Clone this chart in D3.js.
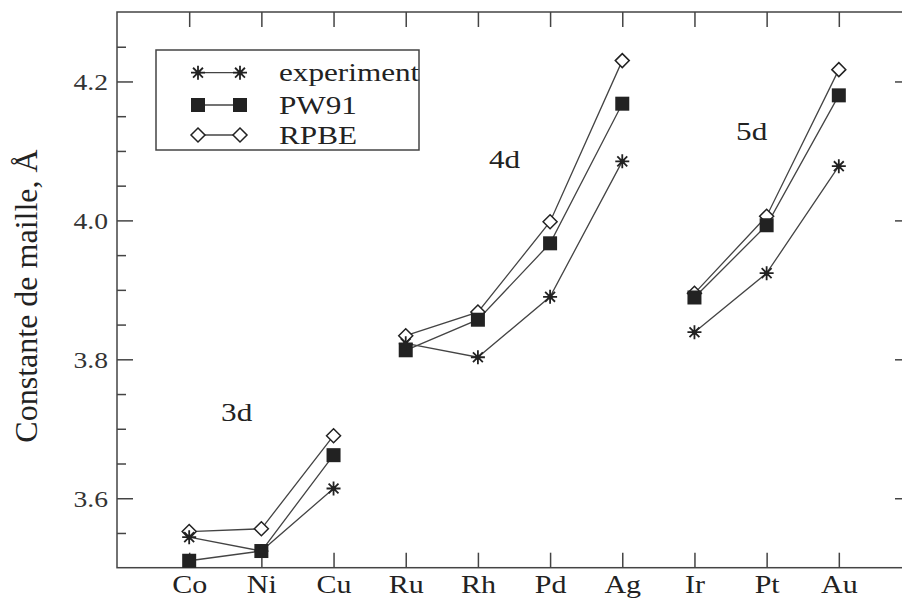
<!DOCTYPE html>
<html>
<head>
<meta charset="utf-8">
<script src="https://cdn.jsdelivr.net/npm/d3@7/dist/d3.min.js"></script>
<style>
  body { margin: 0; background: #fff; }
  svg text { font-family: "Times New Roman", Times, "Liberation Serif", serif; fill: #222; }
</style>
</head>
<body>
<div id="chart"></div>
<script>
// metals along the x axis, grouped by row (lines break between groups)
var metals = ["Co", "Ni", "Cu", "Ru", "Rh", "Pd", "Ag", "Ir", "Pt", "Au"];
var groups = [["Co", "Ni", "Cu"], ["Ru", "Rh", "Pd", "Ag"], ["Ir", "Pt", "Au"]];
var groupLabels = ["3d", "4d", "5d"];

// lattice constants (Å)
var experiment = [3.544, 3.524, 3.614, 3.823, 3.803, 3.890, 4.085, 3.839, 3.924, 4.078];
var pw91       = [3.510, 3.524, 3.662, 3.813, 3.857, 3.967, 4.168, 3.889, 3.993, 4.180];
var rpbe       = [3.552, 3.556, 3.690, 3.834, 3.868, 3.998, 4.230, 3.895, 4.006, 4.217];

var seriesNames = ["experiment", "PW91", "RPBE"];
var yMajor = [3.6, 3.8, 4.0, 4.2];
var yMinor = [3.55, 3.65, 3.7, 3.75, 3.85, 3.9, 3.95, 4.05, 4.1, 4.15, 4.25];

var width = 902, height = 599;
var ink = "#222", lineCol = "#444";
var stretch = 1.2;
var serif = '"Times New Roman", Times, "Liberation Serif", serif';

var svg = d3.select("#chart").append("svg")
  .attr("width", width)
  .attr("height", height);

var x = d3.scaleLinear().domain([0, 11]).range([117, 911]);
var y = d3.scaleLinear().domain([3.5, 4.3]).range([567.7, 12]);

// frame
svg.append("rect")
  .attr("x", x(0)).attr("y", y(4.3))
  .attr("width", x(11) - x(0)).attr("height", y(3.5) - y(4.3))
  .attr("fill", "none").attr("stroke", lineCol).attr("stroke-width", 1.5);

var xIdx = d3.range(1, 11);

// x ticks bottom + top
var gxb = svg.append("g").attr("transform", "translate(0," + y(3.5) + ")")
  .call(d3.axisBottom(x).tickValues(xIdx).tickSize(-15).tickPadding(0)
    .tickFormat(function(d) { return metals[d - 1]; }));
var gxt = svg.append("g").attr("transform", "translate(0," + y(4.3) + ")")
  .call(d3.axisTop(x).tickValues(xIdx).tickSize(-15).tickFormat(""));

// y ticks left + right
var gyl = svg.append("g").attr("transform", "translate(" + x(0) + ",0)")
  .call(d3.axisLeft(y).tickValues(yMajor).tickSize(-16).tickPadding(0)
    .tickFormat(d3.format(".1f")));
var gylm = svg.append("g").attr("transform", "translate(" + x(0) + ",0)")
  .call(d3.axisLeft(y).tickValues(yMinor).tickSize(-9).tickFormat(""));
var gyr = svg.append("g").attr("transform", "translate(" + x(11) + ",0)")
  .call(d3.axisRight(y).tickValues(yMajor).tickSize(-16).tickFormat(""));
var gyrm = svg.append("g").attr("transform", "translate(" + x(11) + ",0)")
  .call(d3.axisRight(y).tickValues(yMinor).tickSize(-9).tickFormat(""));

[gxb, gxt, gyl, gylm, gyr, gyrm].forEach(function(g) {
  g.attr("font-family", serif);
  g.select(".domain").remove();
  g.selectAll(".tick line").attr("stroke", lineCol).attr("stroke-width", 1.5);
});

gxb.selectAll(".tick text")
  .attr("y", 0).attr("dy", 0)
  .attr("transform", "translate(0,25) scale(" + stretch + ",1)")
  .style("font-size", "25px")
  .attr("fill", ink);

gyl.selectAll(".tick text")
  .attr("x", 0).attr("dy", 0)
  .attr("text-anchor", "end")
  .attr("transform", "translate(-9,8) scale(" + stretch + ",1)")
  .style("font-size", "23px")
  .style("fill", "#333");

// y axis title
svg.append("text")
  .attr("transform", "translate(37,296) rotate(-90)")
  .attr("text-anchor", "middle")
  .style("font-size", "32px")
  .text("Constante de maille, Å");

// marker drawing
function drawMarker(g, type, cx, cy) {
  var r = 7;
  if (type === "experiment") {
    var p = "";
    for (var k = 0; k < 4; k++) {
      var a = k * Math.PI / 4;
      var dx = r * Math.cos(a), dy = r * Math.sin(a);
      p += "M" + (cx - dx) + "," + (cy - dy) + "L" + (cx + dx) + "," + (cy + dy);
    }
    g.append("path").attr("d", p).attr("stroke", ink).attr("stroke-width", 1.8);
    g.append("circle").attr("cx", cx).attr("cy", cy).attr("r", 2.5).attr("fill", ink);
  } else if (type === "PW91") {
    g.append("rect").attr("x", cx - r).attr("y", cy - r)
      .attr("width", 2 * r).attr("height", 2 * r).attr("fill", ink);
  } else {
    g.append("path")
      .attr("d", "M" + cx + "," + (cy - r) + "L" + (cx + r) + "," + cy + "L" + cx + "," + (cy + r) + "L" + (cx - r) + "," + cy + "Z")
      .attr("fill", "#fff").attr("stroke", ink).attr("stroke-width", 1.5);
  }
}

var seriesData = { experiment: experiment, PW91: pw91, RPBE: rpbe };
var line = d3.line().x(function(d) { return x(d.i); }).y(function(d) { return y(d.v); });

// lines first, then markers on top
["RPBE", "PW91", "experiment"].forEach(function(name) {
  var vals = seriesData[name];
  groups.forEach(function(grp) {
    var pts = grp.map(function(m) { var i = metals.indexOf(m); return { i: i + 1, v: vals[i] }; });
    svg.append("path").datum(pts).attr("d", line)
      .attr("fill", "none").attr("stroke", lineCol).attr("stroke-width", 1.3);
  });
});
["RPBE", "PW91", "experiment"].forEach(function(name) {
  var vals = seriesData[name];
  var g = svg.append("g");
  vals.forEach(function(v, i) { drawMarker(g, name, x(i + 1), y(v)); });
});

// group labels
var labelPos = [[236.7, 420.7], [504.5, 168], [751.7, 140]];
groupLabels.forEach(function(t, i) {
  svg.append("text")
    .attr("transform", "translate(" + labelPos[i][0] + "," + labelPos[i][1] + ") scale(" + stretch + ",1)")
    .attr("text-anchor", "middle")
    .style("font-size", "26px")
    .text(t);
});

// legend
var lg = svg.append("g");
lg.append("rect").attr("x", 156).attr("y", 50).attr("width", 263).attr("height", 100)
  .attr("fill", "#fff").attr("stroke", lineCol).attr("stroke-width", 1.5);
var rowY = [72.7, 105, 135];
seriesNames.forEach(function(name, i) {
  lg.append("line").attr("x1", 198).attr("x2", 240).attr("y1", rowY[i]).attr("y2", rowY[i])
    .attr("stroke", lineCol).attr("stroke-width", 1.3);
  drawMarker(lg, name, 198, rowY[i]);
  drawMarker(lg, name, 240, rowY[i]);
  lg.append("text")
    .attr("transform", "translate(279," + (rowY[i] + 8.5) + ") scale(" + stretch + ",1)")
    .style("font-size", "26px")
    .text(name);
});
</script>
</body>
</html>
